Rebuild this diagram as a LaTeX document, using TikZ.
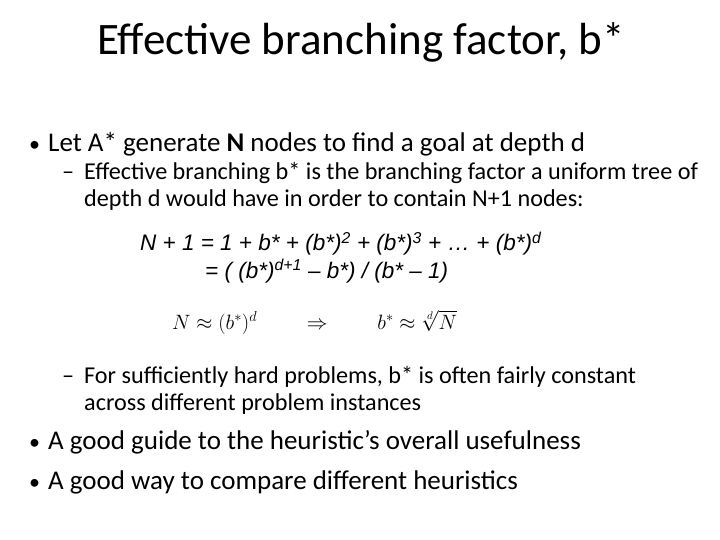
\documentclass[tikz,border=0pt]{standalone}
\usepackage{fontspec}
\setmainfont{Carlito}
\newfontfamily\arialfont{Liberation Sans}
\begin{document}
\begin{tikzpicture}[x=1pt,y=-1pt,
	txt/.style={anchor=base west, inner sep=0pt},
	lvlone/.style={txt, font=\fontsize{27}{32}\selectfont},
	dot/.style={txt, font=\fontsize{22}{26}\selectfont},
	lvltwo/.style={txt, font=\fontsize{24.2}{28}\selectfont},
	frm/.style={txt, font=\arialfont\itshape\fontsize{22.5}{26}\selectfont}]
	\useasboundingbox (0,0) rectangle (720,540);
	% title
	\node[anchor=base, inner sep=0pt, font=\fontsize{45}{52}\selectfont] (title) at (361,55) {Effective branching factor, b*};
	% first bullet
	\node[dot] (b1) at (29,152) {\textbullet};
	\node[lvlone] (t1) at (48,152) {Let A* generate \textbf{N} nodes to find a goal at depth d};
	\node[lvltwo] (d1) at (62,180) {–};
	\node[lvltwo] (s1) at (84,180) {Effective branching b* is the branching factor a uniform tree of};
	\node[lvltwo] (s1b) at (84,207) {depth d would have in order to contain N+1 nodes:};
	% formula
	\node[frm] (f1) at (140,251) {N + 1 = 1 + b* + (b*)\textsuperscript{2} + (b*)\textsuperscript{3} + … + (b*)\textsuperscript{d}};
	\node[frm] (f2) at (205,278) {= ( (b*)\textsuperscript{d+1} – b*) / (b* – 1)};
	\node[txt, font=\fontsize{22}{26}\selectfont] (f3) at (172,329) {$N \approx (b^*)^d \qquad\Rightarrow\qquad b^* \approx \sqrt[d]{N}$};
	\node[lvltwo] (d2) at (62,383) {–};
	\node[lvltwo] (s2) at (84,383) {For sufficiently hard problems, b* is often fairly constant};
	\node[lvltwo] (s2b) at (84,410) {across different problem instances};
	% last bullets
	\node[dot] (b2) at (29,449) {\textbullet};
	\node[lvlone] (t2) at (48,449) {A good guide to the heuristic’s overall usefulness};
	\node[dot] (b3) at (29,489) {\textbullet};
	\node[lvlone] (t3) at (48,489) {A good way to compare different heuristics};
\end{tikzpicture}
\end{document}
